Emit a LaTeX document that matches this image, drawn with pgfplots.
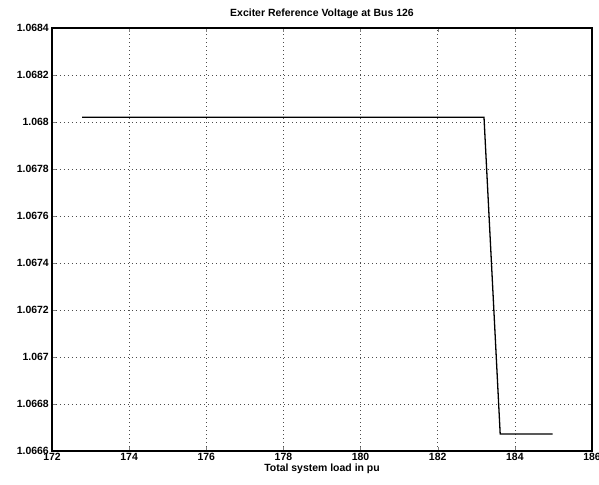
\documentclass[border=0pt]{standalone}
\usepackage{pgfplots}
\pgfplotsset{compat=1.18}
\usepackage{fontspec}
\setmainfont{Liberation Sans}
\begin{document}
\begin{tikzpicture}
\useasboundingbox (-52bp,-34bp) rectangle (547bp,451bp);
\begin{axis}[
  at={(0,0)}, anchor=south west,
  scale only axis, width=540bp, height=423bp,
  xmin=172, xmax=186, ymin=1.0666, ymax=1.0684,
  xtick={172,174,...,186},
  ytick={1.0666,1.0668,1.067,1.0672,1.0674,1.0676,1.0678,1.068,1.0682,1.0684},
  yticklabels={1.0666,1.0668,1.067,1.0672,1.0674,1.0676,1.0678,1.068,1.0682,1.0684},
  xticklabel style={font=\fontsize{10.5}{11}\selectfont\bfseries, inner sep=0pt, yshift=-2bp},
  yticklabel style={font=\fontsize{10.5}{11}\selectfont\bfseries, inner sep=0pt, xshift=-3bp},
  /pgf/number format/assume math mode=true,
  scaled y ticks=false,
  tick align=inside, tickpos=both,
  major tick length=4bp,
  axis line style={line width=1.2pt},
  grid=major,
  grid style={black!70, line width=0.6pt, dash pattern=on 0.7bp off 3.3bp},
  title={Exciter Reference Voltage at Bus 126},
  title style={font=\fontsize{10.5}{11}\selectfont\bfseries, inner sep=0pt, yshift=3bp},
  xlabel={Total system load in pu},
  xlabel style={font=\fontsize{10.5}{11}\selectfont\bfseries, inner sep=0pt,
    at={(axis description cs:0.5,0)}, anchor=north, yshift=-12.5bp},
]
\addplot[black, line width=1.3pt] coordinates {
  (172.78,1.06802) (183.2,1.06802) (183.62,1.066672) (184.98,1.066672)
};
\end{axis}
\end{tikzpicture}
\end{document}
